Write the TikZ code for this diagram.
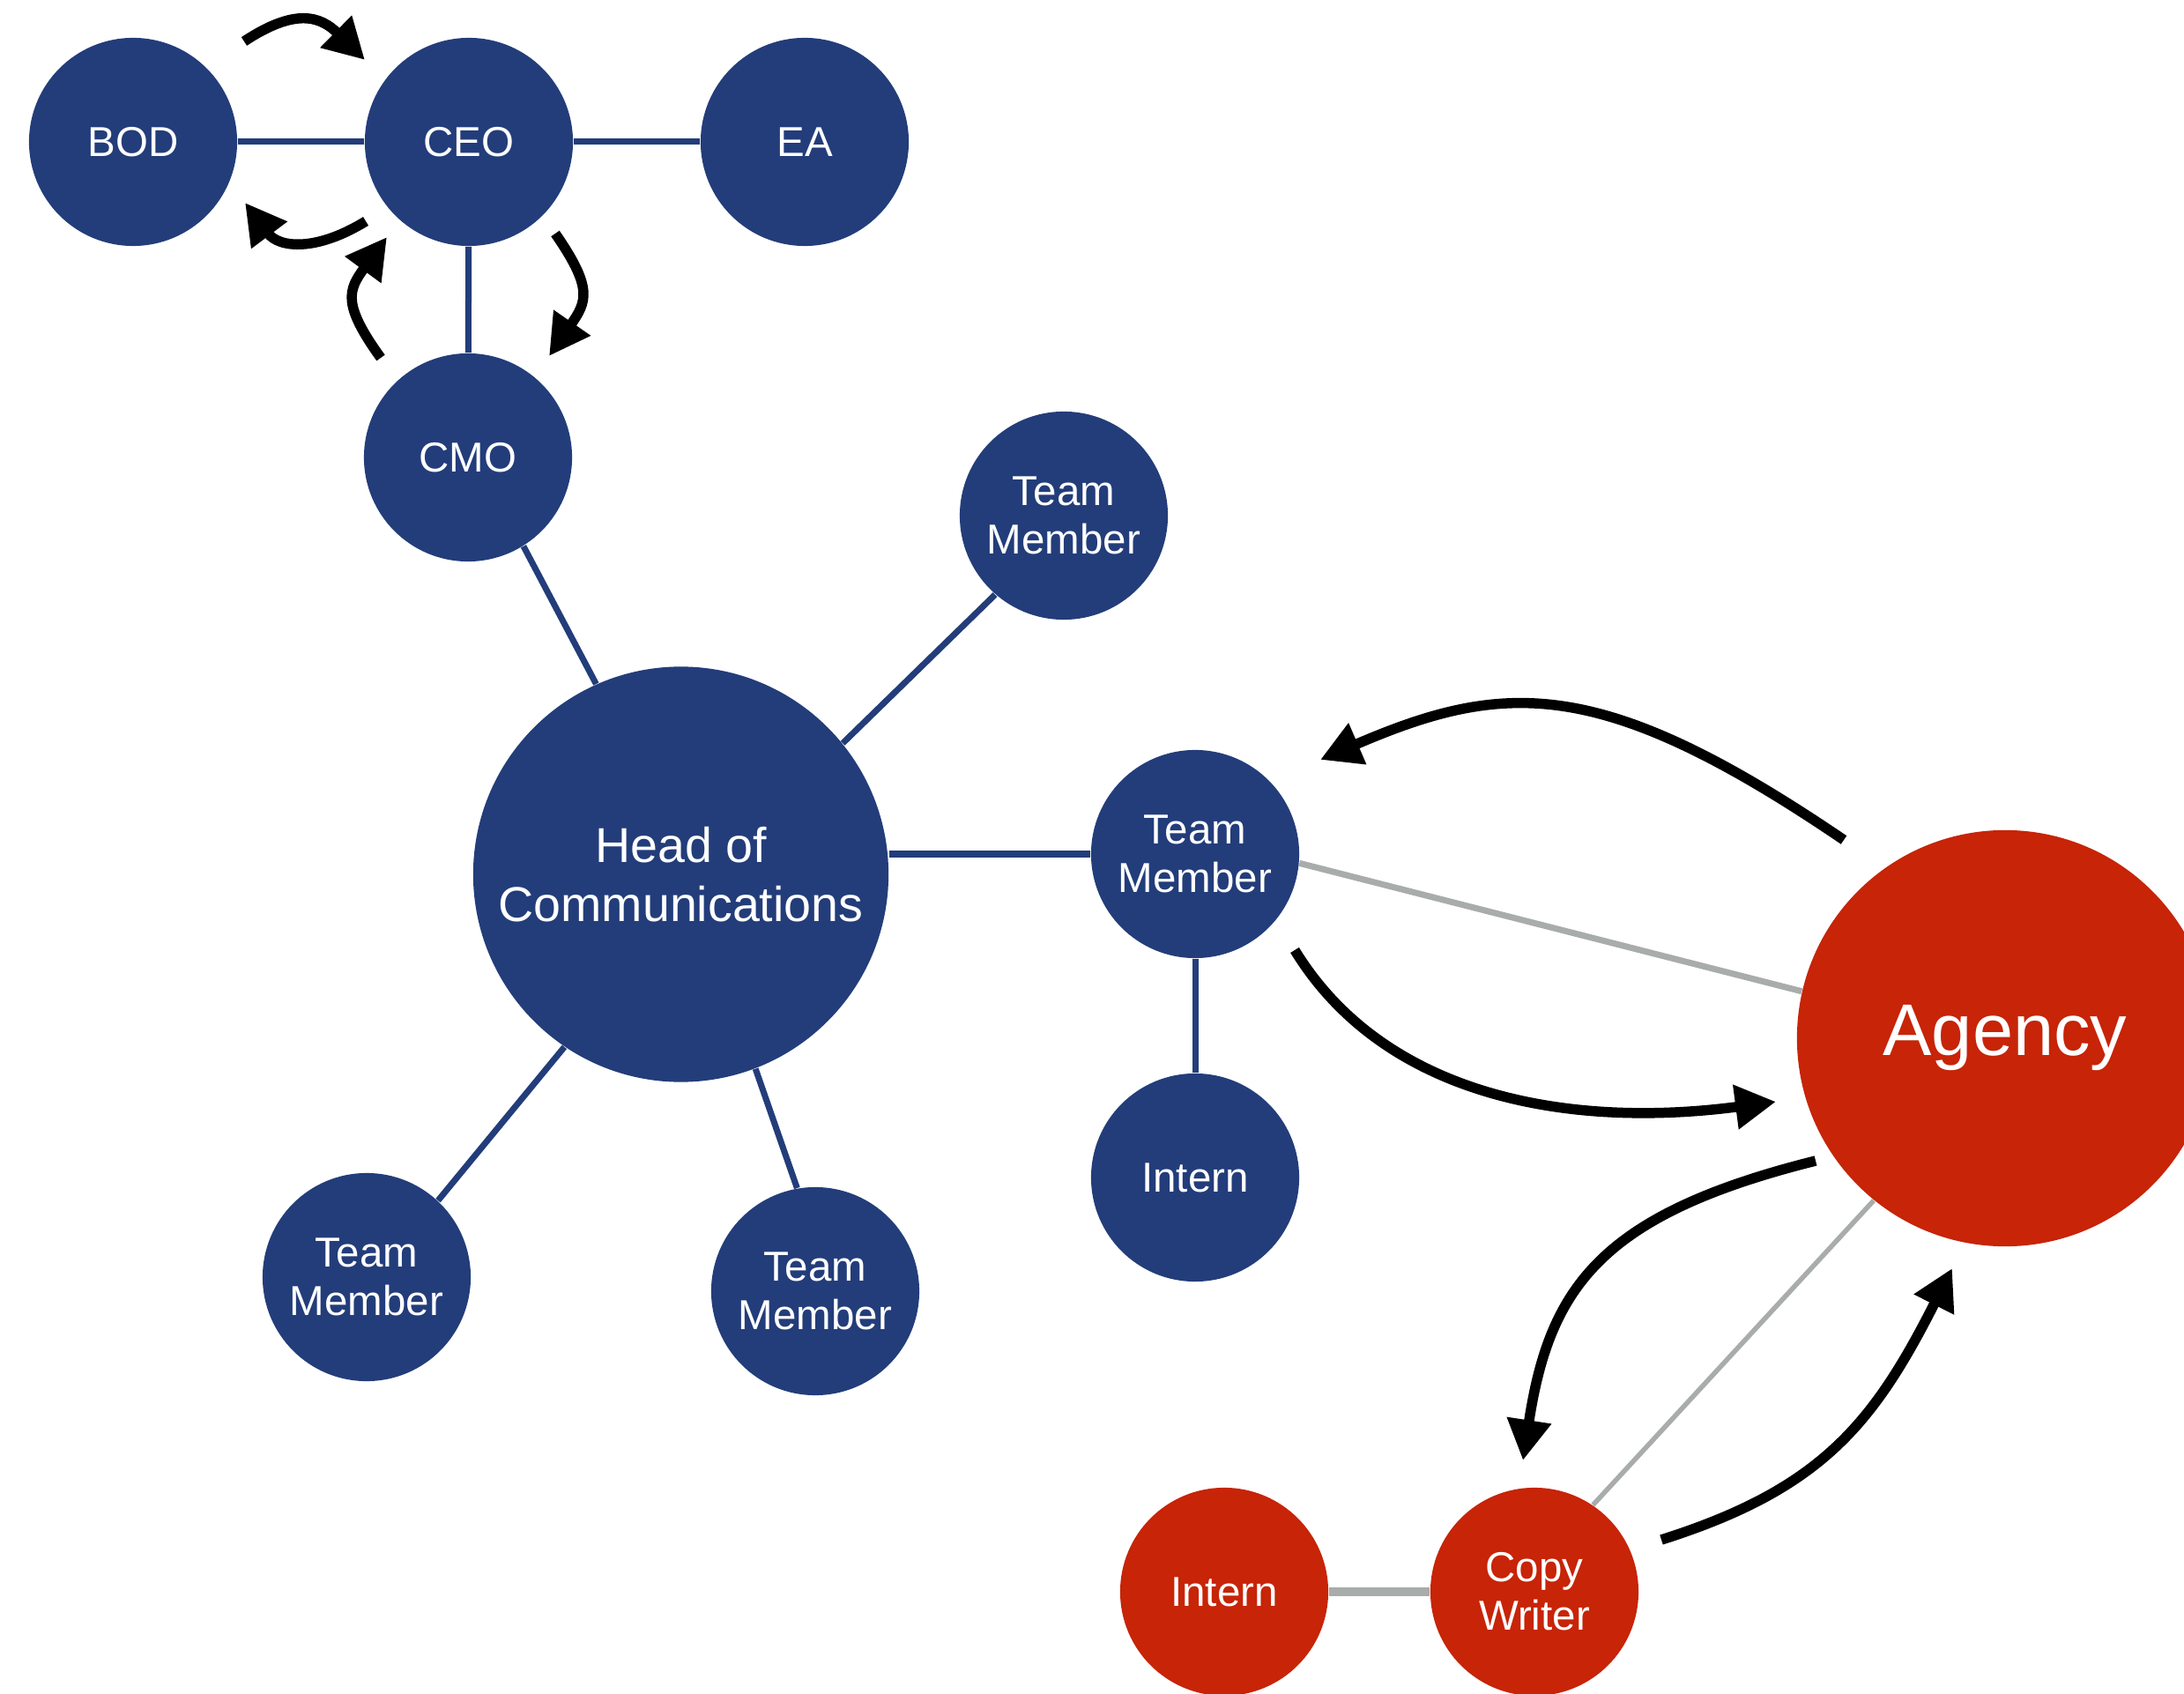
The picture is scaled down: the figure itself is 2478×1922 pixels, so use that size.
\documentclass[tikz,border=0pt]{standalone}
\usepackage{fontspec}
\setmainfont{Liberation Sans}
\usetikzlibrary{arrows.meta,backgrounds}
\definecolor{navy}{HTML}{233D7A}
\definecolor{agred}{HTML}{C72408}
\definecolor{lgray}{HTML}{A8ACAA}
\begin{document}
\begin{tikzpicture}[x=0.01cm,y=-0.01cm,
  bub/.style={circle,inner sep=0pt,minimum size=2.36cm,text=white,align=center,
    font=\fontsize{13.5}{15.7}\selectfont},
  bbub/.style={bub,fill=navy},
  rbub/.style={bub,fill=agred},
  blueline/.style={draw=navy,line width=0.07cm},
  grayline/.style={draw=lgray,line width=#1},
  flow/.style={line width=0.115cm,-{Triangle[length=0.46cm,width=0.48cm]}}]
\useasboundingbox (0,0) rectangle (2478,1922);

% nodes
\node[bbub] (bod) at (151,161) {BOD};
\node[bbub] (ceo) at (532,161) {CEO};
\node[bbub] (ea) at (913,161) {EA};
\node[bbub] (cmo) at (531,519) {CMO};
\node[bbub] (tmt) at (1207,585) {Team\\Member};
\node[bbub,minimum size=4.71cm,font=\fontsize{15.8}{19}\selectfont] (hoc) at (772.5,992) {Head of\\Communications};
\node[bbub] (tmm) at (1356,969) {Team\\Member};
\node[bbub] (intb) at (1356,1336) {Intern};
\node[bbub] (tmbl) at (416,1449) {Team\\Member};
\node[bbub] (tmb) at (925,1465) {Team\\Member};
\node[rbub,minimum size=4.72cm,font=\fontsize{23.6}{28}\selectfont] (agency) at (2275,1178) {Agency};
\node[rbub] (intr) at (1389,1806) {Intern};
\node[rbub] (cw) at (1741,1806) {Copy\\Writer};

% connectors
\begin{scope}[on background layer]
\fill[white] (0,0) rectangle (2478,1922);
\draw[blueline] (bod) -- (ceo);
\draw[blueline] (ceo) -- (ea);
\draw[blueline] (ceo) -- (cmo);
\draw[blueline] (cmo.-58.4) -- (hoc.114);
\draw[blueline] (hoc.39) -- (tmt.-131);
\draw[blueline] (tmm.west) -- (tmm.west -| hoc.east);
\draw[blueline] (hoc.-124.3) -- (tmbl.47.7);
\draw[blueline] (hoc.-69.9) -- (tmb.100);
\draw[blueline] (tmm) -- (intb);
\draw[grayline=0.07cm] (tmm.-5) -- (agency.167.4);
\draw[grayline=0.055cm] (agency.-129.8) -- (cw.56);
\draw[grayline=0.10cm] (intr) -- (cw);
\end{scope}

% flow arrows
\coordinate (a1s) at (277,47);   \coordinate (a1e) at (414,68);
\coordinate (a2s) at (415,251);  \coordinate (a2e) at (278,230);
\coordinate (a3s) at (432,406);  \coordinate (a3e) at (439,269);
\coordinate (a4s) at (630,265);  \coordinate (a4e) at (623,404);
\coordinate (a5s) at (2092,953); \coordinate (a5e) at (1498,862);
\coordinate (a6s) at (1469,1078);\coordinate (a6e) at (2015,1250);
\coordinate (a7s) at (2060,1317);\coordinate (a7e) at (1728,1657);
\coordinate (a8s) at (1885,1747);\coordinate (a8e) at (2215,1439);

\draw[flow] (a1s) .. controls (336,8) and (364,19) .. (a1e);
\draw[flow] (a2s) .. controls (360,285) and (317,282) .. (a2e);
\draw[flow] (a3s) .. controls (388,345) and (395,329) .. (a3e);
\draw[flow] (a4s) .. controls (673,327) and (666,342) .. (a4e);
\draw[flow] (a5s) .. controls (1817,766) and (1707,772) .. (a5e);
\draw[flow] (a6s) .. controls (1573,1248) and (1787,1280) .. (a6e);
\draw[flow] (a7s) .. controls (1816,1378) and (1758,1461) .. (a7e);
\draw[flow] (a8s) .. controls (2065,1690) and (2125,1617) .. (a8e);
\end{tikzpicture}
\end{document}
